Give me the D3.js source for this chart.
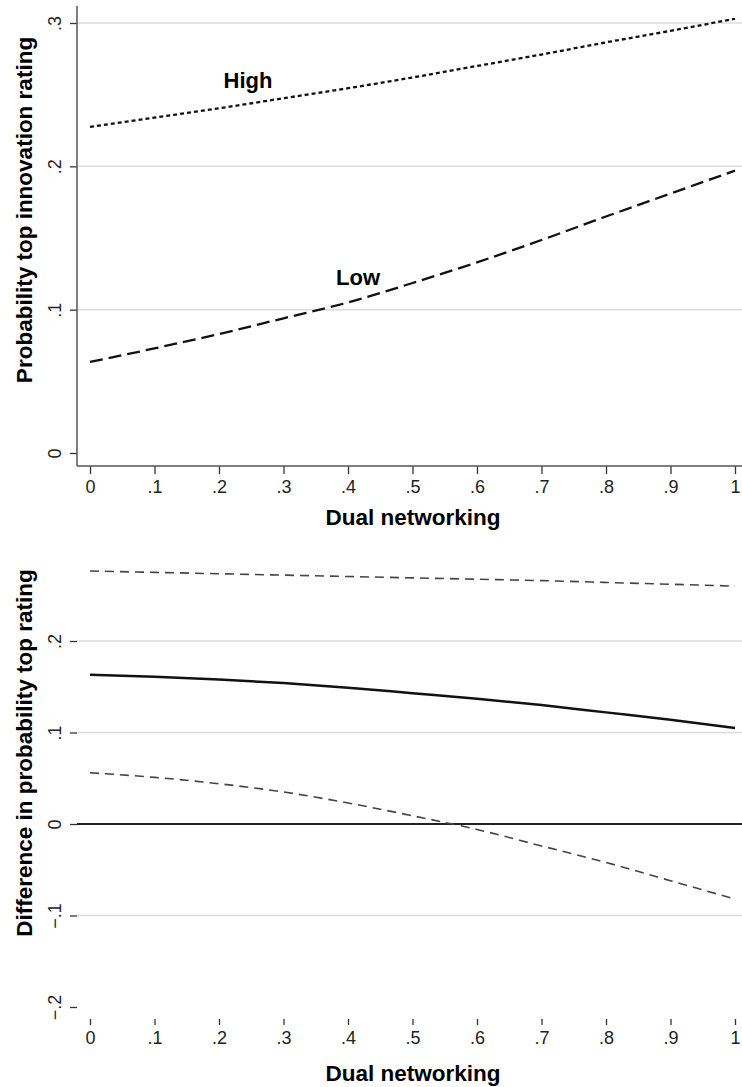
<!DOCTYPE html>
<html>
<head>
<meta charset="utf-8">
<script src="https://cdn.jsdelivr.net/npm/d3@7"></script>
<style>
body { margin: 0; background: #fff; }
svg { display: block; font-family: "Liberation Sans", Arial, sans-serif; }
</style>
</head>
<body>
<svg id="chart" width="742" height="1087"></svg>
<script>
// values
var dual = [0, .1, .2, .3, .4, .5, .6, .7, .8, .9, 1];
var high = [0.2275, 0.234, 0.2405, 0.2475, 0.2545, 0.262, 0.270, 0.278, 0.2865, 0.2945, 0.303];
var low = [0.0635, 0.073, 0.083, 0.094, 0.105, 0.1186, 0.133, 0.1486, 0.165, 0.181, 0.197];
var diff = [0.163, 0.161, 0.158, 0.154, 0.149, 0.143, 0.137, 0.130, 0.122, 0.114, 0.105];
var diff_hi = [0.2765, 0.275, 0.2735, 0.272, 0.2705, 0.269, 0.2675, 0.266, 0.264, 0.262, 0.260];
var diff_lo = [0.056, 0.051, 0.044, 0.035, 0.023, 0.009, -0.006, -0.024, -0.042, -0.062, -0.082];
var x_ticks = [0, .1, .2, .3, .4, .5, .6, .7, .8, .9, 1];
var top_y_ticks = [0, .1, .2, .3];
var top_grid = [.1, .2, .3];
var bot_y_ticks = [-.2, -.1, 0, .1, .2];
var bot_grid = [-.1, .1, .2];

var svg = d3.select('#chart');
var left = 77, right = 742;

function fmt(v) {
	if (v === 0) return '0';
	if (v === 1) return '1';
	return d3.format('.1f')(v).replace('0.', '.');
}

var x = d3.scaleLinear().domain([0, 1]).range([90, 735]);
var y_top = d3.scaleLinear().domain([0, .3]).range([453, 23]);
var y_bot = d3.scaleLinear().domain([0, .1]).range([824, 732.5]);

function pts(xs, ys) {
	return xs.map(function(d, i) { return [d, ys[i]]; });
}

function grid(yscale, vals) {
	svg.append('g').selectAll('line').data(vals).enter().append('line')
		.attr('x1', left).attr('x2', right)
		.attr('y1', function(d) { return yscale(d); })
		.attr('y2', function(d) { return yscale(d); })
		.attr('stroke', '#dcdcdc').attr('stroke-width', 1.5);
}

function y_axis(yscale, vals) {
	var g = svg.append('g').attr('transform', 'translate(' + left + ',0)')
		.call(d3.axisLeft(yscale).tickValues(vals).tickFormat(fmt).tickSize(7).tickSizeOuter(0));
	g.select('.domain').remove();
	g.selectAll('.tick line').attr('stroke', '#333').attr('stroke-width', 1.3);
	g.selectAll('.tick text')
		.attr('x', 0).attr('y', 0).attr('dy', null)
		.attr('transform', 'translate(-22,0) rotate(-90)')
		.attr('text-anchor', 'middle')
		.attr('dominant-baseline', 'central')
		.attr('fill', '#222')
		.style('font-size', '18px');
	return g;
}

function x_axis(ypos, tsize) {
	var g = svg.append('g').attr('transform', 'translate(0,' + ypos + ')')
		.call(d3.axisBottom(x).tickValues(x_ticks).tickFormat(fmt).tickSize(tsize).tickPadding(6).tickSizeOuter(0));
	g.select('.domain').remove();
	g.selectAll('.tick line').attr('stroke', '#333').attr('stroke-width', 1.3);
	g.selectAll('.tick text').attr('fill', '#222').style('font-size', '18px');
	return g;
}

function title(txt, tx, ty, rot) {
	svg.append('text')
		.attr('transform', 'translate(' + tx + ',' + ty + ')' + (rot ? ' rotate(-90)' : ''))
		.attr('text-anchor', 'middle')
		.attr('dominant-baseline', 'central')
		.style('font-size', '22.5px').style('font-weight', 'bold')
		.text(txt);
}

var line_top = d3.line().curve(d3.curveMonotoneX)
	.x(function(d) { return x(d[0]); }).y(function(d) { return y_top(d[1]); });
var line_bot = d3.line().curve(d3.curveMonotoneX)
	.x(function(d) { return x(d[0]); }).y(function(d) { return y_bot(d[1]); });

// ---- top panel
grid(y_top, top_grid);
y_axis(y_top, top_y_ticks);
x_axis(466, 8);
svg.append('line').attr('x1', left).attr('x2', left).attr('y1', 6).attr('y2', 466)
	.attr('stroke', '#555').attr('stroke-width', 1.5);
svg.append('line').attr('x1', left).attr('x2', right).attr('y1', 466).attr('y2', 466)
	.attr('stroke', '#555').attr('stroke-width', 1.5);

svg.append('path').datum(pts(dual, high)).attr('d', line_top)
	.attr('fill', 'none').attr('stroke', '#111').attr('stroke-width', 2.3)
	.attr('stroke-dasharray', '4,3');
svg.append('path').datum(pts(dual, low)).attr('d', line_top)
	.attr('fill', 'none').attr('stroke', '#111').attr('stroke-width', 2.3)
	.attr('stroke-dasharray', '13,6');

svg.append('text').attr('x', 248).attr('y', 80).attr('text-anchor', 'middle')
	.attr('dominant-baseline', 'central')
	.style('font-size', '22px').style('font-weight', 'bold').text('High');
svg.append('text').attr('x', 358).attr('y', 277).attr('text-anchor', 'middle')
	.attr('dominant-baseline', 'central')
	.style('font-size', '22px').style('font-weight', 'bold').text('Low');

title('Probability top innovation rating', 24, 210, true);
title('Dual networking', 413, 517, false);

// ---- bottom panel
grid(y_bot, bot_grid);
y_axis(y_bot, bot_y_ticks);
x_axis(1019, 6);
svg.append('line').attr('x1', left).attr('x2', right)
	.attr('y1', y_bot(0)).attr('y2', y_bot(0))
	.attr('stroke', '#222').attr('stroke-width', 2);

svg.append('path').datum(pts(dual, diff_hi)).attr('d', line_bot)
	.attr('fill', 'none').attr('stroke', '#444').attr('stroke-width', 1.6)
	.attr('stroke-dasharray', '9,6');
svg.append('path').datum(pts(dual, diff_lo)).attr('d', line_bot)
	.attr('fill', 'none').attr('stroke', '#444').attr('stroke-width', 1.6)
	.attr('stroke-dasharray', '9,6');
svg.append('path').datum(pts(dual, diff)).attr('d', line_bot)
	.attr('fill', 'none').attr('stroke', '#111').attr('stroke-width', 2.5);

title('Difference in probability top rating', 24, 753, true);
title('Dual networking', 413, 1073, false);
</script>
</body>
</html>
